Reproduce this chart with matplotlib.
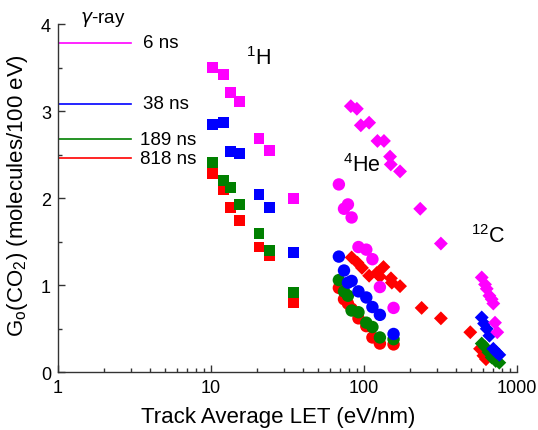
import matplotlib
matplotlib.use("Agg")
import matplotlib.pyplot as plt
from matplotlib.ticker import LogLocator, MultipleLocator, FixedLocator, FixedFormatter, NullFormatter

plt.rcParams['font.family'] = ['Liberation Sans', 'DejaVu Sans']
plt.rcParams['mathtext.default'] = 'regular'

# Colours for each observation time
times = ['6 ns', '38 ns', '189 ns', '818 ns']
colors = {'6 ns': '#ff00ff', '38 ns': '#0000ff', '189 ns': '#008000', '818 ns': '#ff0000'}

# gamma-ray reference yields
gamma_yield = {'6 ns': 3.79, '38 ns': 3.09, '189 ns': 2.68, '818 ns': 2.46}
gamma_let_range = [1, 3]

# 1H (squares)
h_let = [10.2, 12.1, 13.4, 15.4, 20.6, 24.1, 34.8]
h_g = {
    '6 ns':   [3.51, 3.42, 3.22, 3.11, 2.69, 2.55, 2.00],
    '38 ns':  [2.85, 2.87, 2.54, 2.52, 2.04, 1.89, 1.38],
    '189 ns': [2.41, 2.20, 2.13, 1.93, 1.60, 1.40, 0.92],
    '818 ns': [2.29, 2.10, 1.89, 1.74, 1.44, 1.34, 0.80],
}

# 4He (circles)
he_let = [68.5, 74.0, 78.5, 83.0, 92.0, 103.5, 113.5, 127.0, 156.0]
he_g = {
    '6 ns':   [2.16, 1.88, 1.93, 1.78, 1.44, 1.41, 1.30, 0.98, 0.74],
    '38 ns':  [1.33, 1.17, 1.03, 1.05, 0.93, 0.86, 0.75, 0.66, 0.44],
    '189 ns': [1.06, 0.93, 0.88, 0.71, 0.69, 0.57, 0.52, 0.40, 0.38],
    '818 ns': [0.97, 0.84, 0.79, 0.73, 0.62, 0.53, 0.40, 0.33, 0.32],
}

# heavier-ion (diamonds), 4He high-LET part and 12C
dia_let = {
    '6 ns':   [82, 89.8, 95.3, 108, 122.4, 135, 148, 149.6, 172, 233, 318,
               588, 618, 634, 660, 683, 700, 718, 743],
    '38 ns':  [588, 609, 634, 660, 700, 733, 766],
    '189 ns': [588, 618, 650, 683, 726, 766],
    '818 ns': [83, 90.6, 97, 108, 121, 127, 134, 150, 152, 172, 238, 318, 495,
               573, 603, 627],
}
dia_g = {
    '6 ns':   [3.06, 3.03, 2.84, 2.87, 2.66, 2.66, 2.48, 2.39, 2.31, 1.88, 1.48,
               1.09, 1.01, 0.96, 0.88, 0.84, 0.79, 0.57, 0.46],
    '38 ns':  [0.63, 0.56, 0.50, 0.42, 0.27, 0.23, 0.20],
    '189 ns': [0.33, 0.29, 0.23, 0.17, 0.13, 0.11],
    '818 ns': [1.32, 1.26, 1.20, 1.11, 1.14, 1.10, 1.21, 1.08, 1.03, 0.99, 0.74, 0.62, 0.46,
               0.27, 0.19, 0.15],
}

fig = plt.figure(figsize=(5.38, 4.31), dpi=100)
ax = fig.add_axes([0.1078, 0.134, 0.8532, 0.807])

draw_order = ['818 ns', '189 ns', '38 ns', '6 ns']
for t in draw_order:
    c = colors[t]
    ax.scatter(h_let, h_g[t], marker='s', s=62, color=c, edgecolors='none', zorder=3)
    ax.scatter(he_let, he_g[t], marker='o', s=80, color=c, edgecolors='none', zorder=3)
    ax.scatter(dia_let[t], dia_g[t], marker='D', s=50, color=c, edgecolors='none', zorder=3)

for t in times:
    ax.plot(gamma_let_range, [gamma_yield[t]] * 2, color=colors[t], lw=1.2, zorder=2)
    ax.text(3.6 if t in ('6 ns', '38 ns') else 3.45, gamma_yield[t], t,
            fontsize=13.5, va='center', ha='left')

ax.text(1.95, 4.07, r'$\it{\gamma}$-ray', fontsize=13.5, ha='center', va='center')
ax.text(17.0, 3.62, r'$^{1}$H', fontsize=15.5, ha='left', va='center')
ax.text(72.5, 2.39, r'$^{4}$He', fontsize=15.5, ha='left', va='center')
ax.text(500, 1.57, r'$^{12}$C', fontsize=15.5, ha='left', va='center')

ax.set_xscale('log')
ax.set_xlim(1, 1000)
ax.set_ylim(0, 4)
ax.xaxis.set_major_locator(FixedLocator([1, 10, 100, 1000]))
ax.xaxis.set_major_formatter(FixedFormatter(['1', '10', '100', '1000']))
ax.xaxis.set_minor_locator(LogLocator(base=10, subs=range(2, 10)))
ax.xaxis.set_minor_formatter(NullFormatter())
ax.yaxis.set_major_locator(MultipleLocator(1))
ax.yaxis.set_minor_locator(MultipleLocator(0.5))

for side in ('top', 'right'):
    ax.spines[side].set_visible(False)
for side in ('left', 'bottom'):
    ax.spines[side].set_color('#333333')
    ax.spines[side].set_linewidth(1.0)

ax.tick_params(which='major', direction='in', length=5, width=1.0, color='#333333',
               labelsize=13, pad=5)
ax.tick_params(which='minor', direction='in', length=3, width=1.0, color='#333333')

ax.set_xlabel('Track Average LET (eV/nm)', fontsize=16)
ax.set_ylabel('G$_o$(CO$_2$) (molecules/100 eV)', fontsize=16)
ax.xaxis.set_label_coords(0.48, -0.097)
ax.yaxis.set_label_coords(-0.062, 0.51)

fig.savefig('out.png', dpi=100)
